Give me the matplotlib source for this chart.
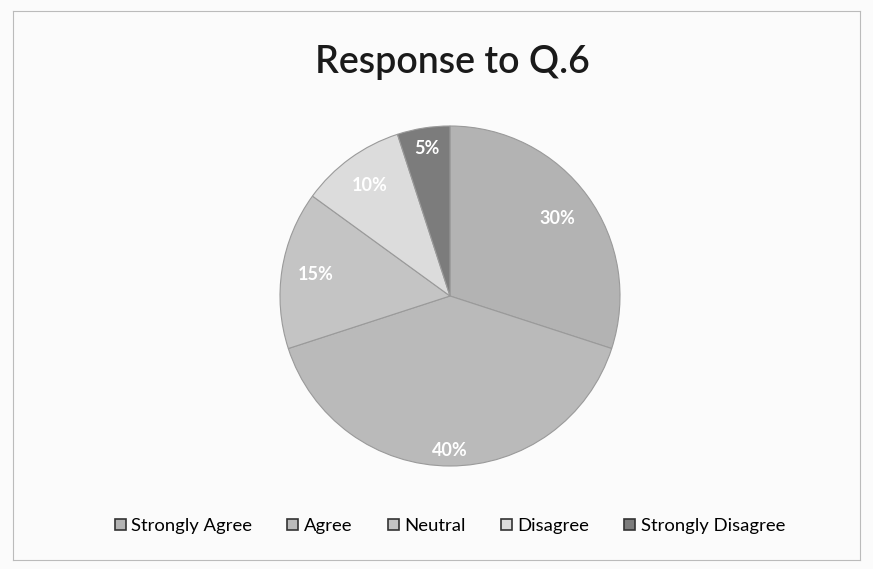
import numpy as np
import matplotlib.pyplot as plt
from matplotlib.patches import Patch

plt.rcParams['font.family'] = ['Lato', 'DejaVu Sans']

labels = ['Strongly Agree', 'Agree', 'Neutral', 'Disagree', 'Strongly Disagree']
shares = [30, 40, 15, 10, 5]
colors = ['#b3b3b3', '#bababa', '#c4c4c4', '#dcdcdc', '#7c7c7c']
# label distance from centre (fraction of radius), per slice
label_r = [0.78, 0.91, 0.80, 0.80, 0.88]

fig = plt.figure(figsize=(8.73, 5.69), dpi=100)
fig.patch.set_facecolor('#fbfbfb')

# axes in pixel units so the pie lands where the reference has it
ax = fig.add_axes([0, 0, 1, 1])
cx, cy, R = 450, 296, 170
wedges, _ = ax.pie(shares, colors=colors, startangle=90, counterclock=False,
                   center=(cx, -cy), radius=R, frame=True,
                   wedgeprops=dict(edgecolor='#9a9a9a', linewidth=0.8))
ax.set_xlim(0, 873)
ax.set_ylim(-569, 0)
ax.axis('off')

for w, v, r in zip(wedges, shares, label_r):
    mid = np.deg2rad((w.theta1 + w.theta2) / 2)
    ax.text(cx + r * R * np.cos(mid), -cy + r * R * np.sin(mid), f'{v}%',
            ha='center', va='center', color='white', fontsize=13, fontweight='bold')

fig.text(452 / 873, 1 - 62 / 569, 'Response to Q.6', ha='center', va='center',
         fontsize=27, fontweight='semibold', color='#1a1a1a')

handles = [Patch(facecolor=c, edgecolor='#333333', linewidth=1.2) for c in colors]
fig.legend(handles, labels, loc='center', bbox_to_anchor=(450 / 873, 1 - 526 / 569), ncol=5,
           frameon=False, fontsize=13.3, handlelength=0.6, handleheight=0.6,
           handletextpad=0.3, columnspacing=1.9)

# faint frame like the scanned page
ax_frame = fig.add_axes([0.015, 0.015, 0.97, 0.965])
ax_frame.set_xticks([])
ax_frame.set_yticks([])
ax_frame.patch.set_alpha(0)
for s in ax_frame.spines.values():
    s.set_color('#bbbbbb')
    s.set_linewidth(0.8)

fig.savefig('out.png', dpi=100, facecolor=fig.get_facecolor())
